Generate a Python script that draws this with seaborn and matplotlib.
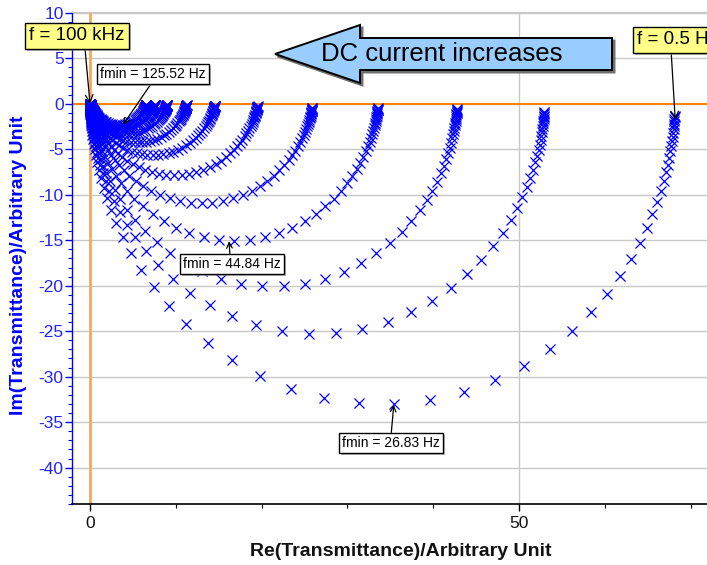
import numpy as np
import pandas as pd
import matplotlib
matplotlib.use("Agg")
import matplotlib.pyplot as plt
import seaborn as sns
from matplotlib import patheffects as pe
from matplotlib.patches import FancyArrow
from matplotlib.ticker import MultipleLocator, FixedLocator

# ---------------- data ----------------
curve_id = list(range(1, 12))                       # DC current steps (largest current = curve 1)
curve_re_low = [6.6, 7.6, 9.0, 11.3, 14.6, 19.6, 26.0, 33.6, 42.8, 53.0, 68.2]   # Re at 0.5 Hz
curve_fc_hz = [125.52, 110.3, 97.0, 85.3, 75.0, 65.96, 51.0, 44.84, 41.9, 33.3, 28.0]
curve_depression = [0.78, 0.79, 0.80, 0.82, 0.84, 0.86, 0.89, 0.93, 0.96, 0.97, 0.98]
freq_start_hz = 0.5
freq_stop_hz = 1.0e5
n_freq_points = 96

y_ticks = [10, 5, 0, -5, -10, -15, -20, -25, -30, -35, -40]
x_ticks = [0, 50]

# ---------------- build the table ----------------
freqs = np.geomspace(freq_start_hz, freq_stop_hz, n_freq_points)
rows = []
for cid, R, fm, a in zip(curve_id, curve_re_low, curve_fc_hz, curve_depression):
    H = R / (1 + (1j * freqs / fm) ** a)
    for f, h in zip(freqs, H):
        rows.append({"curve": cid, "freq": f, "re": h.real, "im": h.imag})
df = pd.DataFrame(rows)

# ---------------- figure ----------------
sns.set_style("white")
plt.rcParams["font.family"] = ["Liberation Sans", "DejaVu Sans"]
plt.rcParams["axes.unicode_minus"] = False

W, H_ = 707, 565
fig = plt.figure(figsize=(W / 100, H_ / 100), dpi=100)
ax = fig.add_axes([72 / W, 1 - 504 / H_, 1 - 72 / W, (504 - 12) / H_])

ax.set_xlim(-2.1, 71.9)
ax.set_ylim(-44.0, 10.1)

# grid & reference lines
for yv in y_ticks:
    ax.axhline(yv, color="#C8C8C8", lw=1.0, zorder=0)
ax.axvline(50, color="#C8C8C8", lw=1.0, zorder=0)
ax.axhline(0, color="#FF8000", lw=1.4, zorder=1)
ax.axvline(0, color="#F5A860", lw=2.0, zorder=1)

sns.scatterplot(data=df, x="re", y="im", marker="x", color="#0000FF",
                s=52, linewidth=0.9, legend=False, ax=ax, zorder=3)

# spines
ax.spines["right"].set_visible(False)
ax.spines["top"].set_color("#C8C8C8")
ax.spines["left"].set_color("#0000FF")
ax.spines["left"].set_linewidth(1.0)
ax.spines["bottom"].set_color("black")
ax.spines["bottom"].set_linewidth(1.2)

# ticks
ax.yaxis.set_major_locator(FixedLocator(y_ticks))
ax.yaxis.set_minor_locator(MultipleLocator(1))
ax.xaxis.set_major_locator(FixedLocator(x_ticks))
ax.xaxis.set_minor_locator(MultipleLocator(10))
ax.tick_params(axis="y", which="major", direction="out", length=5, width=1,
               color="#0000FF", labelcolor="#2222FF", labelsize=12.5, pad=1, left=True)
ax.tick_params(axis="y", which="minor", direction="out", length=3, width=0.8,
               color="#0000FF", left=True)
ax.tick_params(axis="x", which="major", direction="out", length=5, width=1,
               color="black", labelcolor="#111111", labelsize=12.5, pad=4, bottom=True)
ax.tick_params(axis="x", which="minor", direction="out", length=3, width=0.8,
               color="black", bottom=True)
ax.set_yticklabels([str(v) for v in y_ticks])
ax.set_xticklabels([str(v) for v in x_ticks])

ax.set_xlabel("Re(Transmittance)/Arbitrary Unit", fontsize=14, fontweight="bold",
              color="#111111")
ax.set_ylabel("Im(Transmittance)/Arbitrary Unit", fontsize=14, fontweight="bold",
              color="#0000FF")
ax.xaxis.set_label_coords(0.517, -0.079)
ax.yaxis.set_label_coords(-0.071, 0.486)

# ---------------- annotations ----------------
shadow = [pe.SimplePatchShadow(offset=(1.5, -1.5), shadow_rgbFace="#909090", alpha=0.6), pe.Normal()]

def note(text, xy, px, fc, size, relpos, ha="center"):
    a = ax.annotate(text, xy=xy, xycoords="data",
                    xytext=(px[0], H_ - px[1]), textcoords="figure pixels",
                    ha=ha, va="center", fontsize=size, color="black",
                    bbox=dict(boxstyle="square,pad=0.22", fc=fc, ec="black", lw=1.0),
                    arrowprops=dict(arrowstyle="->", color="black", lw=0.9,
                                    relpos=relpos, shrinkA=0, shrinkB=0),
                    annotation_clip=False, zorder=6)
    a.get_bbox_patch().set_path_effects(shadow)
    return a

note("f = 100 kHz", (0.0, 0.0), (77, 36), "#FFFF88", 13.5, (0.58, 0.0))
note("fmin = 125.52 Hz", (3.85, -2.3), (153, 74), "white", 10, (0.5, 0.0))
note("f = 0.5 Hz", (68.2, -1.8), (637, 40), "#FFFF88", 13.5, (0.42, 0.0), ha="left")
note("fmin = 44.84 Hz", (16.2, -15.1), (232, 264), "white", 10, (0.48, 1.0))
note("fmin = 26.83 Hz", (35.4, -33.1), (391, 443), "white", 10, (0.5, 1.0))

# big "DC current increases" arrow
def fx(p):
    return p / W

def fy(p):
    return 1 - p / H_

for off, fc, ec, z in [((2.5, 2.5), "#707070", "#707070", 7), ((0, 0), "#99CCFF", "black", 8)]:
    arr = FancyArrow(fx(612 + off[0]), fy(54 + off[1]), -(612 - 275) / W, 0,
                     width=32 / H_, head_width=58 / H_, head_length=85 / W,
                     length_includes_head=True, transform=fig.transFigure,
                     fc=fc, ec=ec, lw=1.4, zorder=z)
    fig.patches.append(arr)
fig.text(fx(442), fy(54), "DC current increases", ha="center", va="center",
         fontsize=18.5, color="black", zorder=9)

fig.savefig("out.png", dpi=100)
